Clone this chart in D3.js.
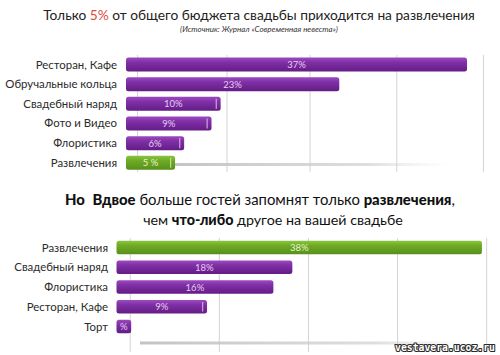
<!DOCTYPE html>
<html><head><meta charset="utf-8">
<script src="https://cdn.jsdelivr.net/npm/d3@7"></script>
<style>html,body{margin:0;padding:0;background:#fff;}svg{display:block;}</style>
</head><body>
<script>
// ---------- data ----------
const topCategories = ["Ресторан, Кафе","Обручальные кольца","Свадебный наряд","Фото и Видео","Флористика","Развлечения"];
const topValues = [37,23,10,9,6,5];
const topLabels = ["37%","23%","10%","9%","6%","5 %"];
const topGrid = [0.9,10.7,19.8,29.3,38.8];

const bottomCategories = ["Развлечения","Свадебный наряд","Флористика","Ресторан, Кафе","Торт"];
const bottomValues = [38,18,16,9,1];
const bottomLabels = ["38%","18%","16%","9%","%"];
const bottomGrid = [0.9,10.3,19.7,29.1,38.5];

const highlight = "Развлечения";

const W = 500, H = 355;
const svg = d3.select("body").append("svg").attr("width", W).attr("height", H);
const defs = svg.append("defs");

function grad(id, stops){
  const g = defs.append("linearGradient").attr("id", id).attr("x1",0).attr("y1",0).attr("x2",0).attr("y2",1);
  stops.forEach(s => g.append("stop").attr("offset", s[0]).attr("stop-color", s[1]));
}
grad("gPurple", [[0,"#9c4ac0"],[0.35,"#8030a6"],[1,"#641c86"]]);
grad("gGreen", [[0,"#8cc640"],[0.35,"#6eaa26"],[1,"#57901a"]]);
const sh = defs.append("linearGradient").attr("id","gShadow").attr("x1",0).attr("y1",0).attr("x2",1).attr("y2",0);
sh.append("stop").attr("offset",0).attr("stop-color","#bdbdbd").attr("stop-opacity",0.9);
sh.append("stop").attr("offset",0.7).attr("stop-color","#cfcfcf").attr("stop-opacity",0.7);
sh.append("stop").attr("offset",1).attr("stop-color","#e0e0e0").attr("stop-opacity",0);

function fitText(sel, targetW){
  const n = sel.node();
  const w = n.getComputedTextLength();
  const fs = parseFloat(sel.attr("font-size"));
  sel.attr("font-size", (fs * targetW / w).toFixed(2));
}

// ---------- chart drawer ----------
function drawChart(cfg){
  const g = svg.append("g");
  const x = d3.scaleLinear().domain([0,40]).range(cfg.xRange);
  const y = d3.scalePoint().domain(cfg.cats).range(cfg.yRange);
  const bh = cfg.barH;

  g.selectAll("line.grid").data(cfg.grid).join("line")
    .attr("x1", d => x(d)).attr("x2", d => x(d))
    .attr("y1", cfg.gridY[0]).attr("y2", cfg.gridY[1])
    .attr("stroke", "#d4d4d4").attr("stroke-width", 1);

  g.append("rect")
    .attr("x", cfg.shadow[0]).attr("width", cfg.shadow[1]-cfg.shadow[0])
    .attr("y", cfg.shadow[2]).attr("height", 3)
    .attr("fill", "url(#gShadow)");

  g.selectAll("text.cat").data(cfg.cats).join("text")
    .attr("x", cfg.labelX).attr("y", d => y(d) + 4)
    .attr("text-anchor", "end")
    .attr("font-family", "Lato, 'Open Sans', sans-serif")
    .attr("font-size", 11.4)
    .attr("fill", "#2b2b2b")
    .text(d => d);

  const x0 = cfg.barStart;
  const bars = g.selectAll("g.bar").data(cfg.cats.map((c,i)=>({c, v:cfg.vals[i], l:cfg.labels[i]}))).join("g");
  bars.append("rect")
    .attr("x", x0).attr("y", d => y(d.c) - bh/2)
    .attr("width", d => x(d.v) - x0).attr("height", bh)
    .attr("rx", 2.5)
    .attr("fill", d => d.c === highlight ? "url(#gGreen)" : "url(#gPurple)");
  bars.append("rect")
    .attr("x", d => x(d.v) - 5).attr("y", d => y(d.c) - bh/2 + 2)
    .attr("width", 1.2).attr("height", bh - 4)
    .attr("fill", d => d.c === highlight ? "#c8e6a0" : "#d9b8ea")
    .attr("opacity", d => (d.v > 2 && d.v <= 10) ? 0.85 : 0);
  bars.append("text")
    .attr("x", d => (x0 + x(d.v)) / 2).attr("y", d => y(d.c) + 3.5)
    .attr("text-anchor", "middle")
    .attr("font-family", "Lato, 'Open Sans', sans-serif")
    .attr("font-size", 9.5)
    .attr("fill", d => d.c === highlight ? "#e2f3c8" : "#e6cdf3")
    .text(d => d.l);
}

drawChart({cats: topCategories, vals: topValues, labels: topLabels, grid: topGrid,
  xRange: [129.4, 129.4 + 365], yRange: [64.5, 162.8], barH: 14, barStart: 126,
  gridY: [55, 172], labelX: 117, shadow: [170, 450, 163]});

drawChart({cats: bottomCategories, vals: bottomValues, labels: bottomLabels, grid: bottomGrid,
  xRange: [121.7, 121.7 + 379.2], yRange: [247.5, 326.5], barH: 13.5, barStart: 116.5,
  gridY: [238, 352], labelX: 108, shadow: [140, 475, 341.5]});

// ---------- titles ----------
const t1 = svg.append("text").attr("x", 259).attr("y", 20).attr("text-anchor","middle")
  .attr("font-family","Lato, 'Open Sans', sans-serif").attr("font-size", 14).attr("fill","#222");
t1.append("tspan").text("Только ");
t1.append("tspan").attr("fill","#e04a3a").text("5%");
t1.append("tspan").text(" от общего бюджета свадьбы приходится на развлечения");
fitText(t1, 432);

const st = svg.append("text").attr("x", 259).attr("y", 32).attr("text-anchor","middle")
  .attr("font-family","Lato, 'Open Sans', sans-serif").attr("font-style","italic")
  .attr("font-size", 7.5).attr("fill","#333")
  .text("(Источник: Журнал «Современная невеста»)");
fitText(st, 158);

const t2 = svg.append("text").attr("x", 260).attr("y", 205).attr("text-anchor","middle")
  .attr("font-family","Lato, 'Open Sans', sans-serif").attr("font-size", 14).attr("fill","#111")
  .attr("xml:space","preserve");
t2.append("tspan").attr("font-weight","900").text("Но");
t2.append("tspan").text("  ");
t2.append("tspan").attr("font-weight","900").text("Вдвое");
t2.append("tspan").text(" больше гостей запомнят только ");
t2.append("tspan").attr("font-weight","900").text("развлечения");
t2.append("tspan").text(",");
fitText(t2, 390);

const t3 = svg.append("text").attr("x", 273).attr("y", 225).attr("text-anchor","middle")
  .attr("font-family","Lato, 'Open Sans', sans-serif").attr("font-size", 14).attr("fill","#111");
t3.append("tspan").text("чем ");
t3.append("tspan").attr("font-weight","900").text("что-либо");
t3.append("tspan").text(" другое на вашей свадьбе");
fitText(t3, 260);

// ---------- watermark ----------
const wm = svg.append("text").attr("x", 495).attr("y", 351).attr("text-anchor","end")
  .attr("font-family","'DejaVu Sans Mono', monospace").attr("font-weight","bold")
  .attr("font-size", 11).attr("fill","#fff").attr("stroke","#2a2a2a").attr("stroke-width", 2.2)
  .attr("paint-order","stroke").attr("stroke-linejoin","round")
  .text("vestavera.ucoz.ru");
fitText(wm, 100);
</script>
</body></html>
